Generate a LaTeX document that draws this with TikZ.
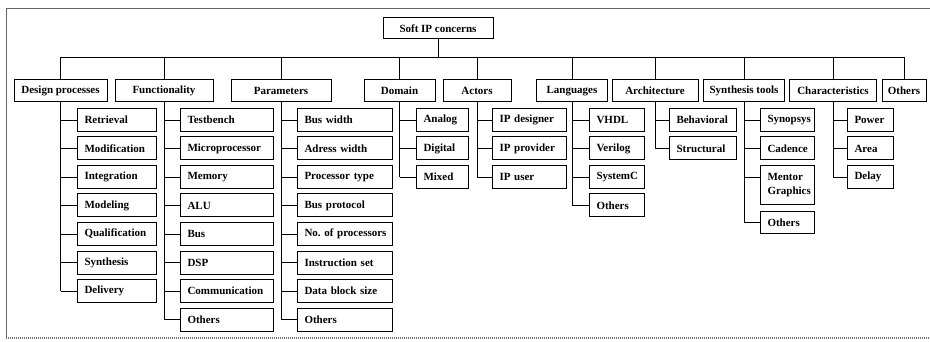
\documentclass[tikz,border=0pt]{standalone}
\usepackage{fontspec}
\setmainfont{Liberation Serif}
\usetikzlibrary{calc}
\begin{document}
\begin{tikzpicture}[x=1pt,y=-1pt,
  box/.style={draw, line width=1pt, font=\bfseries\fontsize{11}{14}\selectfont, inner ysep=0pt},
  topbox/.style={box, minimum height=22pt, inner xsep=2pt, align=center},
  leaf/.style={box, anchor=west, minimum height=23pt, inner xsep=7pt, align=left},
  wire/.style={line width=0.8pt},
  frameline/.style={line width=0.8pt, draw=black!60}]
\useasboundingbox (0,0) rectangle (930,342);
% frame
\draw[frameline] (6,338) -- (6,8) -- (930,8);
\draw[line width=1.4pt, draw=black!55, dash pattern=on 1pt off 1pt] (6,338) -- (930,338);

% root
\node[topbox, minimum width=110pt, minimum height=21pt] (root) at (438,28.5) {Soft IP concerns};
\coordinate (bus) at (0,57);

% top-level
\node[topbox, minimum width=93pt] (dp) at (60.5,91) {Design processes};
\node[topbox, minimum width=98pt] (fu) at (164,91) {Functionality};
\node[topbox, minimum width=100pt] (pa) at (281,91) {Parameters};
\node[topbox, minimum width=71pt] (do) at (399.5,91) {Domain};
\node[topbox, minimum width=68pt] (ac) at (477,91) {Actors};
\node[topbox, minimum width=71pt] (la) at (572,91) {Languages};
\node[topbox, minimum width=86pt] (ar) at (655,91) {Architecture};
\node[topbox, minimum width=81pt] (sy) at (744,91) {Synthesis tools};
\node[topbox, minimum width=87pt] (ch) at (833,91) {Characteristics};
\node[topbox, minimum width=44pt] (ot) at (904,91) {Others};

% bus
\draw[wire] (root.south) -- (root.south |- bus);
\draw[wire] (dp.north |- bus) -- (ot.north |- bus);
\foreach \n in {dp,fu,pa,do,ac,la,ar,sy,ch,ot}
  \draw[wire] (\n.north |- bus) -- (\n.north);

% leaves
\foreach \t [count=\i] in {Retrieval,Modification,Integration,Modeling,Qualification,Synthesis,Delivery}
  \node[leaf, text width=65pt] (dp\i) at (77,91.5+28.5*\i) {\t};
\foreach \t [count=\i] in {Testbench,Microprocessor,Memory,ALU,Bus,DSP,Communication,Others}
  \node[leaf, text width=79pt] (fu\i) at (180,91.5+28.5*\i) {\t};
\foreach \t [count=\i] in {Bus width,Adress width,Processor type,Bus protocol,\mbox{No.\ of processors},Instruction set,Data block size,Others}
  \node[leaf, text width=81pt] (pa\i) at (297,91.5+28.5*\i) {\t};
\foreach \t [count=\i] in {Analog,Digital,Mixed}
  \node[leaf, text width=38pt] (do\i) at (416,91.5+28.5*\i) {\t};
\foreach \t [count=\i] in {IP designer,IP provider,IP user}
  \node[leaf, text width=60pt] (ac\i) at (492,91.5+28.5*\i) {\t};
\foreach \t [count=\i] in {VHDL,Verilog,SystemC,Others}
  \node[leaf, text width=41pt] (la\i) at (589,91.5+28.5*\i) {\t};
\foreach \t [count=\i] in {Behavioral,Structural}
  \node[leaf, text width=53pt] (ar\i) at (669,91.5+28.5*\i) {\t};
\foreach \t [count=\i] in {Synopsys,Cadence}
  \node[leaf, text width=40pt] (sy\i) at (760,91.5+28.5*\i) {\t};
\node[leaf, text width=40pt, minimum height=39pt] (sy3) at (760,185.5) {Mentor\\Graphics};
\node[leaf, text width=40pt, minimum height=22pt] (sy4) at (760,222.5) {Others};
\foreach \t [count=\i] in {Power,Area,Delay}
  \node[leaf, text width=32pt] (ch\i) at (847,91.5+28.5*\i) {\t};

% connectors
\draw[wire] (dp.south) -- (dp.south |- dp7.west);
\foreach \i in {1,...,7} \draw[wire] (dp.south |- dp\i.west) -- (dp\i.west);
\draw[wire] (fu.south) -- (fu.south |- fu8.west);
\foreach \i in {1,...,8} \draw[wire] (fu.south |- fu\i.west) -- (fu\i.west);
\draw[wire] (pa.south) -- (pa.south |- pa8.west);
\foreach \i in {1,...,8} \draw[wire] (pa.south |- pa\i.west) -- (pa\i.west);
\draw[wire] (do.south) -- (do.south |- do3.west);
\foreach \i in {1,...,3} \draw[wire] (do.south |- do\i.west) -- (do\i.west);
\draw[wire] (ac.south) -- (ac.south |- ac3.west);
\foreach \i in {1,...,3} \draw[wire] (ac.south |- ac\i.west) -- (ac\i.west);
\draw[wire] (la.south) -- (la.south |- la4.west);
\foreach \i in {1,...,4} \draw[wire] (la.south |- la\i.west) -- (la\i.west);
\draw[wire] (ar.south) -- (ar.south |- ar2.west);
\foreach \i in {1,2} \draw[wire] (ar.south |- ar\i.west) -- (ar\i.west);
\draw[wire] (sy.south) -- (sy.south |- sy4.west);
\foreach \i in {1,2,4} \draw[wire] (sy.south |- sy\i.west) -- (sy\i.west);
\coordinate (mg) at ($(sy3.west)+(0,-8.5)$);
\draw[wire] (sy.south |- mg) -- (mg);
\draw[wire] (ch.south) -- (ch.south |- ch3.west);
\foreach \i in {1,...,3} \draw[wire] (ch.south |- ch\i.west) -- (ch\i.west);
\end{tikzpicture}
\end{document}
